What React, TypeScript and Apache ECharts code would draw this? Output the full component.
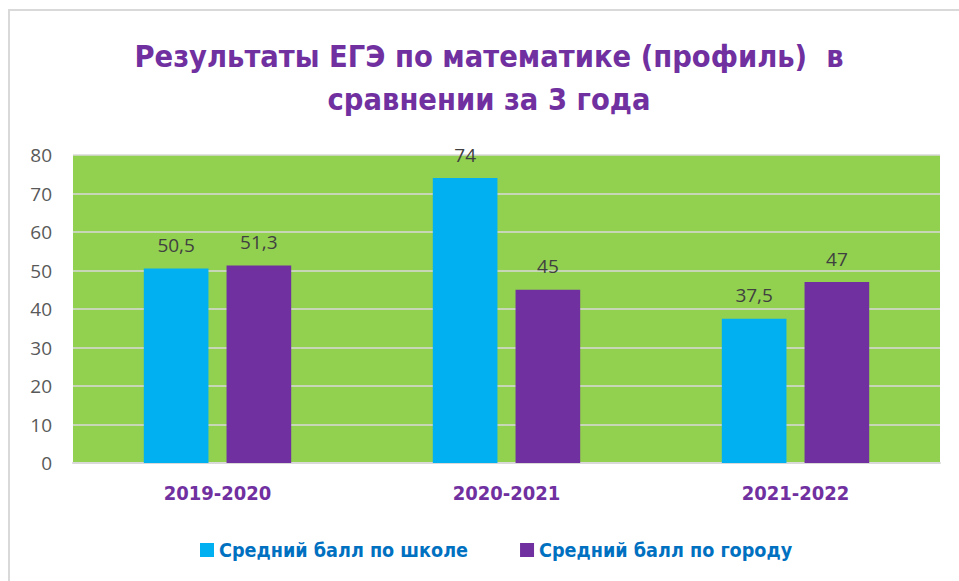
import React, { useEffect, useRef } from "react";
import * as echarts from "echarts";

const categories = ["2019-2020", "2020-2021", "2021-2022"];
const schoolAvg = [50.5, 74, 37.5];
const cityAvg = [51.3, 45, 47];
const seriesNames = ["Средний балл по школе", "Средний балл по городу"];
const titleText = "Результаты ЕГЭ по математике (профиль)  в\nсравнении за 3 года";

const BOLD_FONT = "'DejaVu Sans Condensed', sans-serif";

export default function App() {
  const ref = useRef<HTMLDivElement>(null);
  useEffect(() => {
    if (!ref.current) return;
    const chart = echarts.init(ref.current, null, { renderer: "svg" });
    const labelFmt = (p: any) => String(p.value).replace(".", ",");
    chart.setOption({
      animation: false,
      backgroundColor: "#ffffff",
      graphic: [
        {
          type: "rect",
          shape: { x: 9, y: 10, width: 1000, height: 1000 },
          style: { fill: "none", stroke: "#d9d9d9", lineWidth: 2 },
          silent: true,
        },
        {
          type: "text",
          x: 489,
          y: 35,
          silent: true,
          style: {
            text: titleText,
            align: "center",
            verticalAlign: "top",
            textAlign: "center",
            textVerticalAlign: "top",
            fontFamily: BOLD_FONT,
            fontWeight: "bold",
            fontSize: 30.5,
            lineHeight: 43,
            fill: "#7030A0",
          },
        },
      ],
      legend: {
        data: seriesNames,
        left: 195,
        top: 535,
        icon: "rect",
        itemWidth: 14,
        itemHeight: 14,
        itemGap: 52,
        textStyle: {
          fontFamily: BOLD_FONT,
          fontWeight: "bold",
          fontSize: 19.6,
          color: "#0070C0",
        },
      },
      grid: {
        left: 73,
        right: 19,
        top: 155,
        bottom: 118,
        show: true,
        backgroundColor: "#92D050",
        borderWidth: 0,
      },
      xAxis: {
        type: "category",
        data: categories,
        axisLine: { show: true, lineStyle: { color: "#d9d9d9", width: 2 } },
        axisTick: { show: false },
        axisLabel: {
          margin: 20,
          color: "#7030A0",
          fontFamily: BOLD_FONT,
          fontWeight: "bold",
          fontSize: 20,
        },
      },
      yAxis: {
        type: "value",
        min: 0,
        max: 80,
        interval: 10,
        axisLine: { show: false },
        axisTick: { show: false },
        splitLine: { lineStyle: { color: "#d9d9d9", width: 1.5 } },
        axisLabel: {
          margin: 21,
          color: "#595959",
          fontFamily: "Open Sans",
          fontSize: 19,
        },
      },
      series: [
        {
          name: seriesNames[0],
          type: "bar",
          data: schoolAvg,
          itemStyle: { color: "#00B0F0" },
          barCategoryGap: "49%",
          barGap: "28%",
          label: {
            show: true,
            position: "top",
            distance: 14,
            formatter: labelFmt,
            color: "#404040",
            fontFamily: "Open Sans",
            fontSize: 19,
          },
        },
        {
          name: seriesNames[1],
          type: "bar",
          data: cityAvg,
          itemStyle: { color: "#7030A0" },
          barCategoryGap: "49%",
          barGap: "28%",
          label: {
            show: true,
            position: "top",
            distance: 14,
            formatter: labelFmt,
            color: "#404040",
            fontFamily: "Open Sans",
            fontSize: 19,
          },
        },
      ],
    });
    return () => chart.dispose();
  }, []);
  return (
    <div
      ref={ref}
      style={{ position: "absolute", left: 0, top: 0, width: 959, height: 581 }}
    />
  );
}
